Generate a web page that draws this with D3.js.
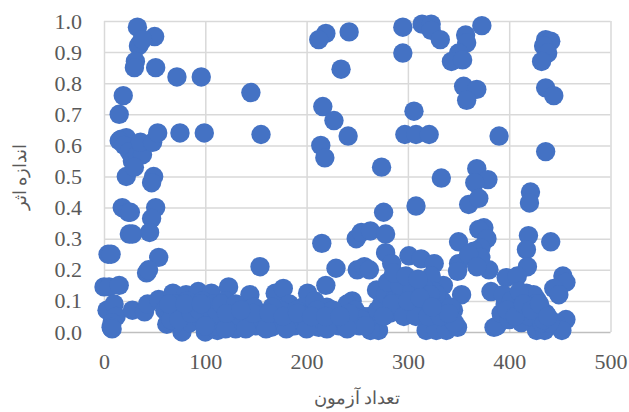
<!DOCTYPE html>
<html>
<head>
<meta charset="utf-8">
<script src="https://cdn.jsdelivr.net/npm/d3@7"></script>
<style>
  html, body { margin: 0; background: #fff; }
  svg text { fill: #595959; font-family: 'Liberation Serif', serif; }
</style>
</head>
<body>
<div class="canvas"></div>
<script>
// each upper group: test count and effect size
const upperCounts = [33,50,36,34,38,31,30,51,72,96,145,19,15,17,22,15,20,25,28,33,38,36,48,53,75,99,155,22,30,49,47,18,24,26,51,47,45,25,28,4,7,54,42,44,0,5,15,154];
const upperEffects = [.98,.95,.93,.92,.94,.87,.85,.85,.82,.82,.77,.76,.70,.62,.625,.615,.60,.58,.55,.57,.57,.61,.61,.64,.64,.64,.635,.50,.53,.50,.48,.40,.385,.385,.40,.365,.32,.315,.315,.25,.25,.24,.19,.20,.145,.145,.15,.21];

const rightCounts = [242,219,212,234,295,295,314,323,323,332,373,357,358,350,343,354,436,441,434,438,432,355,368,358,436,444,216,227,241,214,218,274,306,297,308,321,390,436,333,368,379,366,421,420,276,308,360,370];
const rightEffects = [.965,.96,.94,.845,.98,.897,.99,.99,.97,.94,.985,.955,.93,.897,.87,.875,.94,.935,.92,.897,.87,.79,.78,.745,.785,.76,.725,.68,.63,.60,.56,.53,.71,.635,.635,.635,.63,.58,.495,.525,.49,.48,.45,.415,.385,.405,.41,.43];

const midCounts = [375,370,378,350,419,441,417,418,215,249,254,263,278,229,250,257,262,278,284,301,313,326,350,349,380,397,408,453,456,444,449,353,335,382,323,269,245,219,456,446,452,271,263,318,328,338,349,385,427,435,417,427,345,372,365,372,360,368];
const midEffects = [.335,.33,.30,.29,.31,.29,.265,.21,.285,.30,.32,.325,.315,.205,.20,.21,.20,.255,.22,.245,.235,.22,.22,.195,.20,.175,.18,.18,.16,.14,.12,.12,.15,.13,.18,.135,.10,.15,.04,.03,.005,.005,.005,.005,.005,.005,.015,.015,.005,.005,.125,.105,.07,.27,.26,.24,.25,.21];

const leftLowCounts = [3,10,12,8,7,8,28,40,43,54,68,81,93,106,123,144,169,177,201,62,77,100,112,130];
const leftLowEffects = [.07,.09,.05,.03,.015,.01,.07,.065,.09,.105,.125,.12,.13,.125,.145,.12,.125,.14,.125,.025,0,0,.005,.01];

const blobCounts = [60,65,70,72,78,82,85,90,92,97,100,104,108,110,115,118,120,125,128,132,135,138,142,146,150,155,158,162,165,170,175,180,183,188,192,196,200,204,208,212,216,220,224,228,232,236,240,244,248,252,256,262,270,274,278,282,286,290,294,298,302,306,310,314,318,322,326,330,334,338,342,346,388,392,396,400,404,408,412,416,420,424,428,432,436,440,394,402,410,418,426,434,280,292,304,316,328,286,298,310,322];
const blobEffects = [.07,.05,.09,.03,.06,.10,.03,.08,.05,.10,.04,.07,.09,.02,.06,.04,.10,.03,.08,.05,.015,.07,.03,.05,.02,.06,.04,.03,.015,.05,.03,.06,.09,.02,.05,.08,.03,.06,.10,.015,.04,.08,.03,.06,.02,.05,.09,.03,.07,.02,.05,.05,.07,.09,.12,.06,.10,.08,.12,.07,.10,.14,.08,.11,.06,.09,.13,.07,.10,.05,.08,.03,.02,.06,.09,.04,.11,.07,.03,.10,.05,.12,.07,.03,.06,.03,.12,.10,.13,.08,.09,.04,.16,.15,.13,.14,.12,.19,.18,.17,.12];

// extra readings inside the solid part of the blob
const fillCounts = [66,74,86,94,102,112,122,134,140,152,160,168,174,178,186,194,198,206,214,222,230,238,246,254,258,64,80,96,116,130,148,166,190,210,226,242,284,296,308,320,332,340,276,300,312,324,398,406,414,422,430,438,100,120,140,160,180,200,220,240,147,163,177,191,205,219,233,121,135];
const fillEffects = [.04,.04,.06,.07,.08,.06,.06,.05,.07,.04,.05,.04,.07,.03,.04,.03,.05,.03,.06,.05,.04,.03,.05,.04,.02,.09,.09,.09,.09,.09,.08,.08,.07,.07,.07,.06,.09,.05,.05,.05,.05,.06,.05,.10,.11,.08,.07,.05,.09,.07,.09,.05,.02,.01,.01,.01,.01,.01,.01,.01,.06,.06,.05,.06,.05,.05,.05,.06,.07];

const testCounts = [...upperCounts, ...rightCounts, ...midCounts, ...leftLowCounts, ...blobCounts, ...fillCounts];
const effectSizes = [...upperEffects, ...rightEffects, ...midEffects, ...leftLowEffects, ...blobEffects, ...fillEffects];

const xTicks = [0, 100, 200, 300, 400, 500];
const yTicks = [0, .1, .2, .3, .4, .5, .6, .7, .8, .9, 1];

const svg = d3.select('.canvas')
  .append('svg')
  .attr('width', 629)
  .attr('height', 412);

const x = d3.scaleLinear().domain([0, 500]).range([104, 610.5]);
const y = d3.scaleLinear().domain([0, 1]).range([332, 21]);

// vertical grid, x labels
const xAxis = svg.append('g')
  .attr('transform', 'translate(0, 332)')
  .call(d3.axisBottom(x).tickValues(xTicks).tickSize(-311).tickPadding(21).tickFormat(d3.format('d')));

// horizontal grid, y labels
const yAxis = svg.append('g')
  .attr('transform', 'translate(104, 0)')
  .call(d3.axisLeft(y).tickValues(yTicks).tickSize(-506.5).tickPadding(22).tickFormat(d3.format('.1f')));

[xAxis, yAxis].forEach(a => {
  a.select('.domain').remove();
  a.selectAll('line').attr('stroke', '#d9d9d9').attr('stroke-width', 1.5);
  a.selectAll('text').style('font-size', '22px').style('font-family', "'Liberation Serif', serif");
});
xAxis.selectAll('text').attr('dy', '0.71em');
yAxis.selectAll('.tick').filter(d => d === 0).select('line').attr('stroke', '#bfbfbf');

svg.append('g')
  .selectAll('circle')
  .data(testCounts)
  .enter()
  .append('circle')
  .attr('cx', d => x(d))
  .attr('cy', (d, i) => y(effectSizes[i]))
  .attr('r', 9.7)
  .attr('fill', '#4472c4');

svg.append('text')
  .attr('x', 357)
  .attr('y', 404)
  .attr('text-anchor', 'middle')
  .style('font-size', '18px')
  .text('تعداد آزمون');

svg.append('text')
  .attr('transform', 'translate(26, 177) rotate(-90)')
  .attr('text-anchor', 'middle')
  .style('font-size', '18px')
  .text('اندازه اثر');
</script>
</body>
</html>
